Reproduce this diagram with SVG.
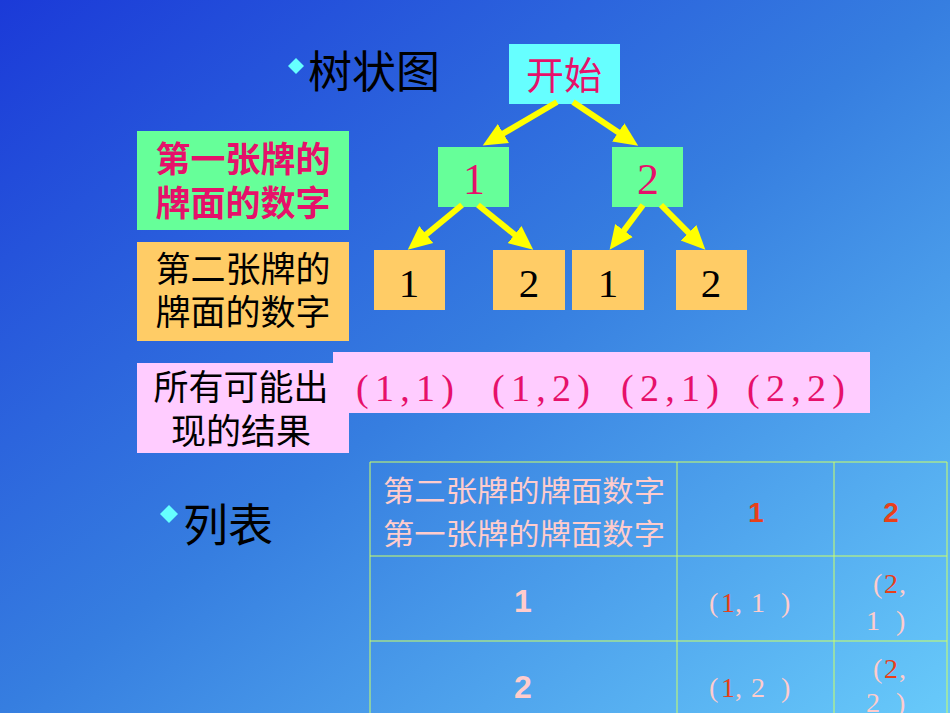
<svg xmlns="http://www.w3.org/2000/svg" width="950" height="713" viewBox="0 0 950 713">
<defs>
<linearGradient id="bg" x1="0" y1="0" x2="1" y2="1">
<stop offset="0" stop-color="#1B3AD8"/>
<stop offset="0.5" stop-color="#367EE0"/>
<stop offset="1" stop-color="#68CAFA"/>
</linearGradient>
<marker id="ah" markerUnits="userSpaceOnUse" markerWidth="26" markerHeight="24" refX="8" refY="11" orient="auto" viewBox="0 0 26 22">
<path d="M0,0 L24,11 L0,22 z" fill="#FFFF00"/>
</marker>
</defs>
<style>
.cjk{font-family:"Noto Sans CJK SC","Liberation Sans",sans-serif}
.ser{font-family:"Liberation Serif","Noto Sans CJK SC",serif}
.sans{font-family:"Liberation Sans","Noto Sans CJK SC",sans-serif}
.red{fill:#E6106A}
.blk{fill:#000}
.pk{fill:#FFCCCC}
.or{fill:#E8401A}
.mid{text-anchor:middle}
.conn{stroke:#FFFF00;stroke-width:6;fill:none;marker-end:url(#ah)}
.grid{stroke:#CCFF66;stroke-width:1;fill:none}
</style>
<rect width="950" height="713" fill="url(#bg)"/>

<g id="title-tree">
<path d="M296,58 L304,66 L296,74 L288,66 z" fill="#66FFFF"/>
<text x="308" y="88" class="cjk blk" font-size="44">树状图</text>
</g>
<g id="title-table">
<path d="M169,505 L178,514 L169,523 L160,514 z" fill="#66FFFF"/>
<text x="183" y="542" class="cjk blk" font-size="45">列表</text>
</g>

<g id="label-first">
<rect x="137" y="131" width="212" height="99" fill="#66FF99"/>
<text class="cjk red mid" font-size="35" font-weight="bold"><tspan x="243" y="172">第一张牌的</tspan><tspan x="243" y="216">牌面的数字</tspan></text>
</g>
<g id="label-second">
<rect x="137" y="242" width="212" height="99" fill="#FFCC66"/>
<text class="cjk blk mid" font-size="35"><tspan x="243" y="282">第二张牌的</tspan><tspan x="243" y="325">牌面的数字</tspan></text>
</g>
<g id="label-results">
<rect x="137" y="363" width="212" height="90" fill="#FFCCFF"/>
<rect x="333" y="352" width="537" height="61" fill="#FFCCFF"/>
<text class="cjk blk mid" font-size="35"><tspan x="241" y="400">所有可能出</tspan><tspan x="241" y="444">现的结果</tspan></text>
<text x="405" y="401" class="ser red mid" font-size="38" textLength="98" lengthAdjust="spacing">(1,1)</text>
<text x="541" y="401" class="ser red mid" font-size="38" textLength="98" lengthAdjust="spacing">(1,2)</text>
<text x="670" y="401" class="ser red mid" font-size="38" textLength="98" lengthAdjust="spacing">(2,1)</text>
<text x="796" y="401" class="ser red mid" font-size="38" textLength="98" lengthAdjust="spacing">(2,2)</text>
</g>

<g id="node-start">
<rect x="509" y="44" width="111" height="60" fill="#66FFFF"/>
<text x="564" y="89" class="cjk red mid" font-size="38">开始</text>
</g>
<g id="node-1">
<rect x="438" y="147" width="71" height="60" fill="#66FF99"/>
<text x="474" y="194" class="ser red mid" font-size="44">1</text>
</g>
<g id="node-2">
<rect x="612" y="147" width="71" height="60" fill="#66FF99"/>
<text x="648" y="194" class="ser red mid" font-size="44">2</text>
</g>
<g id="node-1-1">
<rect x="374" y="250" width="71" height="60" fill="#FFCC66"/>
<text x="409" y="297" class="ser blk mid" font-size="41">1</text>
</g>
<g id="node-1-2">
<rect x="493" y="250" width="72" height="60" fill="#FFCC66"/>
<text x="529" y="297" class="ser blk mid" font-size="41">2</text>
</g>
<g id="node-2-1">
<rect x="572" y="250" width="72" height="60" fill="#FFCC66"/>
<text x="608" y="297" class="ser blk mid" font-size="41">1</text>
</g>
<g id="node-2-2">
<rect x="676" y="250" width="71" height="60" fill="#FFCC66"/>
<text x="711" y="297" class="ser blk mid" font-size="41">2</text>
</g>

<g id="connectors">
<line class="conn" x1="557" y1="102" x2="496.5" y2="137.5"/>
<line class="conn" x1="573" y1="102" x2="624.9" y2="136.8"/>
<line class="conn" x1="462" y1="205" x2="420.1" y2="239.5"/>
<line class="conn" x1="478" y1="205" x2="520.8" y2="239.6"/>
<line class="conn" x1="643" y1="205" x2="619.2" y2="236.9"/>
<line class="conn" x1="661" y1="205" x2="694.1" y2="238.3"/>
</g>

<g id="table">
<path class="grid" d="M370,462 H947 M370,556 H947 M370,641 H947 M370,462 V713 M677,462 V713 M834,462 V713 M947,462 V713"/>
<text class="cjk pk mid" font-size="29"><tspan x="524" y="502" textLength="282" lengthAdjust="spacingAndGlyphs">第二张牌的牌面数字</tspan><tspan x="524" y="545" textLength="282" lengthAdjust="spacingAndGlyphs">第一张牌的牌面数字</tspan></text>
<text x="756" y="522" class="sans or mid" font-size="28" font-weight="bold">1</text>
<text x="891" y="522" class="sans or mid" font-size="28" font-weight="bold">2</text>
<text x="523" y="612" class="sans pk mid" font-size="32" font-weight="bold">1</text>
<text x="523" y="698" class="sans pk mid" font-size="32" font-weight="bold">2</text>
<text y="612" class="ser pk" font-size="28"><tspan x="709">(</tspan><tspan x="721" class="or">1</tspan><tspan x="735">,</tspan><tspan x="751">1</tspan><tspan x="781">)</tspan></text>
<text y="697" class="ser pk" font-size="28"><tspan x="709">(</tspan><tspan x="721" class="or">1</tspan><tspan x="735">,</tspan><tspan x="751">2</tspan><tspan x="781">)</tspan></text>
<text class="ser pk" font-size="28"><tspan x="873" y="593">(</tspan><tspan x="884" class="or">2</tspan><tspan x="899">,</tspan><tspan x="866" y="630">1</tspan><tspan x="896">)</tspan></text>
<text class="ser pk" font-size="28"><tspan x="873" y="678">(</tspan><tspan x="884" class="or">2</tspan><tspan x="899">,</tspan><tspan x="866" y="712">2</tspan><tspan x="896">)</tspan></text>
</g>
</svg>
